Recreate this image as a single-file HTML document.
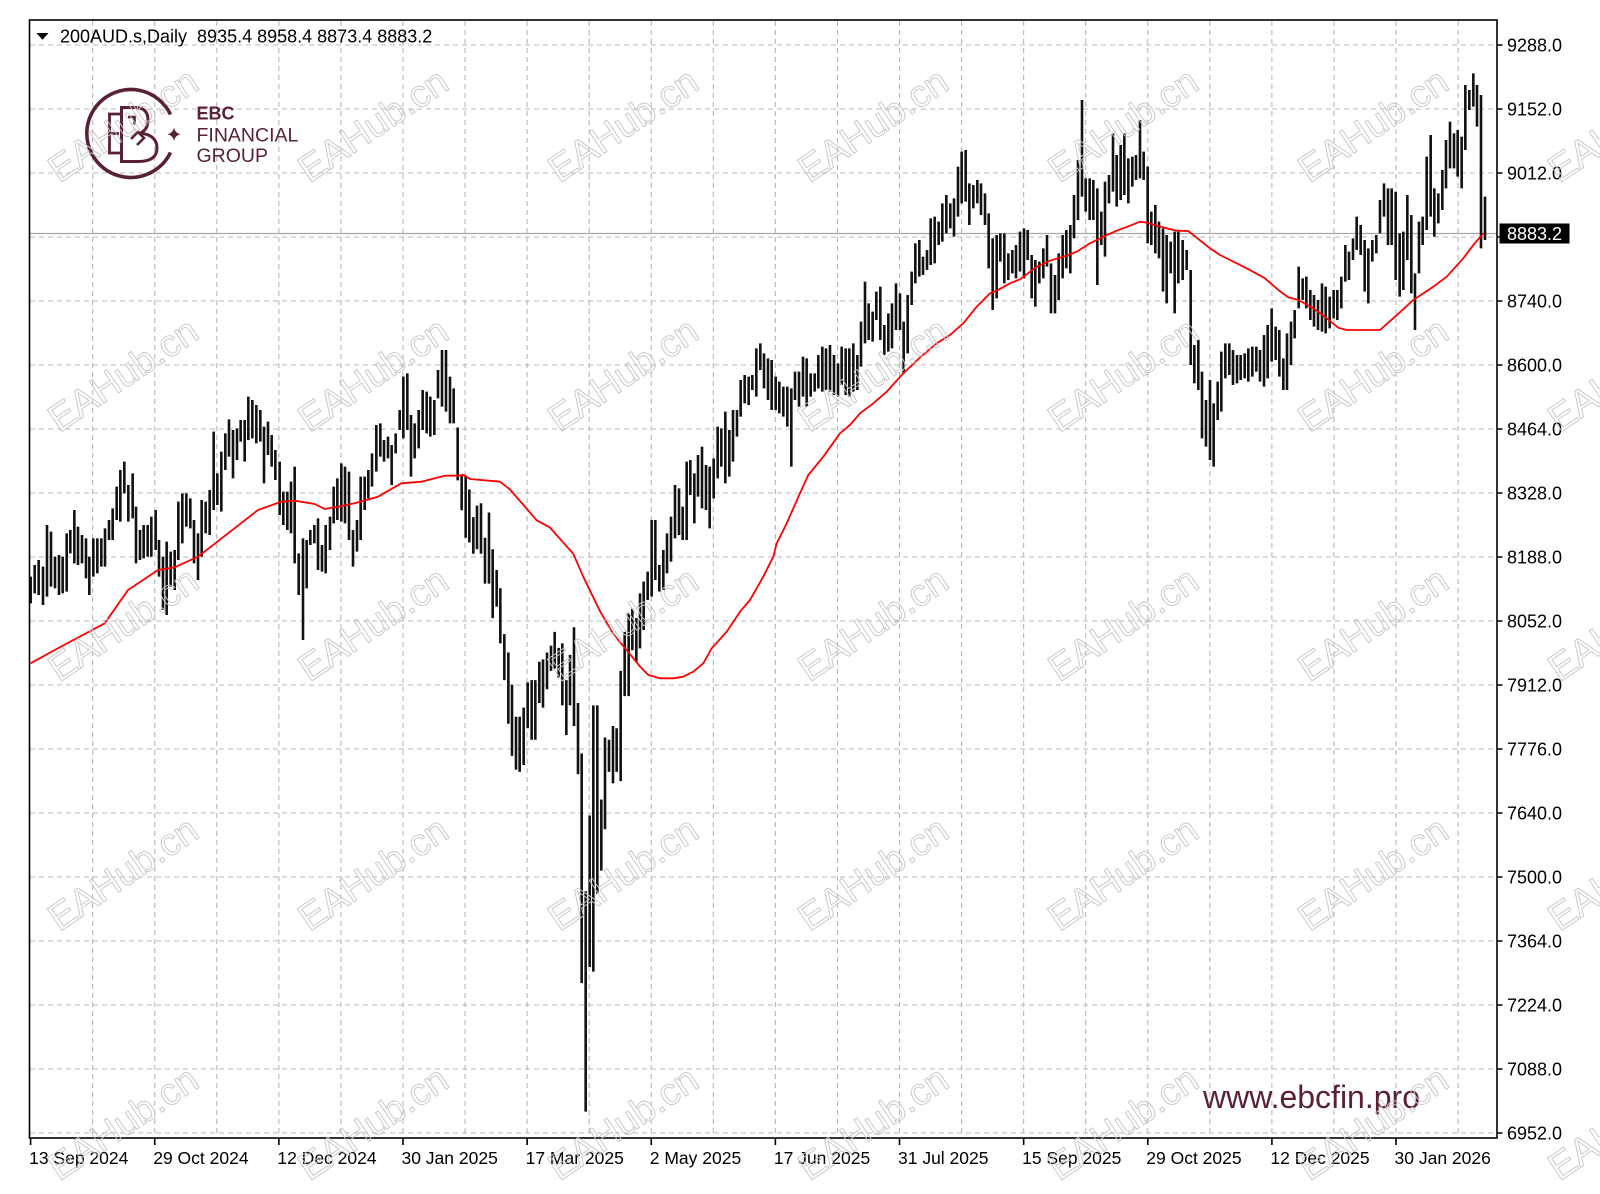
<!DOCTYPE html>
<html>
<head>
<meta charset="utf-8">
<style>
  html,body{margin:0;padding:0;background:#fff;}
  body{width:1600px;height:1194px;overflow:hidden;}
  svg{display:block;}
  text{font-family:"Liberation Sans", Arial, sans-serif;}
</style>
</head>
<body>
<svg id="c" xmlns="http://www.w3.org/2000/svg" width="1600" height="1194" viewBox="0 0 1600 1194">
  <rect x="0" y="0" width="1600" height="1194" fill="#ffffff"/>
  <g id="grid"></g>
  <line x1="30" y1="233.5" x2="1497" y2="233.5" stroke="#a8a8a8" stroke-width="1.2"/>
  <g id="bars"></g>
  <polyline id="ma" fill="none" stroke="#ff0000" stroke-width="1.8" stroke-linejoin="round" points=""/>
  <!-- frame -->
  <rect x="29.5" y="20" width="1467.5" height="1118" fill="none" stroke="#000" stroke-width="1.6"/>
  <g id="axes"></g>

  <!-- header -->
  <polygon points="36.5,33 48.5,33 42.5,39.8" fill="#000"/>
  <text x="60" y="42.7" font-size="18" fill="#000" xml:space="preserve">200AUD.s,Daily  8935.4 8958.4 8873.4 8883.2</text>

  <!-- current price label -->
  <rect x="1499.5" y="223.5" width="70" height="20" fill="#000"/>
  <text x="1507" y="240" font-size="18" fill="#fff">8883.2</text>

  <!-- logo -->
  <g fill="none" stroke="#5a2230" stroke-width="3.6" stroke-linecap="butt">
    <path d="M170.5 114.5 A44 44 0 1 0 170.5 152.5"/>
    <path d="M109.5 114 V153 M108 114 H121 M109.5 133.5 H119 M108 153 H121" stroke-width="2.8"/>
    <path d="M121.5 107.5 V161.5 M120 107.5 H135 Q148 107.5 148 120 Q148 130 140 133 Q157 135 157 148 Q157 161.5 138 161.5 H120" stroke-width="3"/>
    <path d="M128 117 H134.5 V124.5" stroke-width="2.6"/>
    <path d="M131 139 L138 132 L144 138 L137 145" stroke-width="2.6"/>
  </g>
  <path d="M174 127.5 Q175 133 180.5 134.3 Q175 135.5 174 141 Q173 135.5 167.5 134.3 Q173 133 174 127.5 Z" fill="#5a2230"/>
  <text x="196.5" y="119.4" font-size="18" font-weight="bold" fill="#5a2230">EBC</text>
  <text x="196.5" y="141.7" font-size="19.5" fill="#5a2230">FINANCIAL</text>
  <text x="196.5" y="162" font-size="19.5" fill="#5a2230">GROUP</text>

  <!-- site -->
  <text x="1203" y="1108" font-size="32" fill="#5a2230">www.ebcfin.pro</text>

  <g id="wm"></g>
</svg>
<script>
(function(){
  var NS="http://www.w3.org/2000/svg";
  function el(tag,attrs,parent,txt){
    var e=document.createElementNS(NS,tag);
    for(var k in attrs){e.setAttribute(k,attrs[k]);}
    if(txt!==undefined){e.textContent=txt;}
    parent.appendChild(e);return e;
  }
  // grid
  var g=document.getElementById('grid');
  var ax=document.getElementById('axes');
  var prices=["9288.0","9152.0","9012.0","8876.0","8740.0","8600.0","8464.0","8328.0","8188.0","8052.0","7912.0","7776.0","7640.0","7500.0","7364.0","7224.0","7088.0","6952.0"];
  for(var k=0;k<18;k++){
    var y=45+64*k;
    el('line',{x1:30,y1:y,x2:1497,y2:y,stroke:'#b8b8b8','stroke-width':1.1,'stroke-dasharray':'5 4'},g);
    el('line',{x1:1497,y1:y,x2:1502.5,y2:y,stroke:'#000','stroke-width':1.5},ax);
    if(k!==3){
      el('text',{x:1507,y:y+6.4,'font-size':18,fill:'#000'},ax,prices[k]);
    }
  }
  for(var k=1;k<=23;k++){
    var x=30.6+62.065*k;
    el('line',{x1:x,y1:21,x2:x,y2:1137,stroke:'#b8b8b8','stroke-width':1.1,'stroke-dasharray':'5 4'},g);
  }
  var dates=["13 Sep 2024","29 Oct 2024","12 Dec 2024","30 Jan 2025","17 Mar 2025","2 May 2025","17 Jun 2025","31 Jul 2025","15 Sep 2025","29 Oct 2025","12 Dec 2025","30 Jan 2026"];
  for(var j=0;j<12;j++){
    var x=30.6+124.13*j;
    el('line',{x1:x,y1:1138,x2:x,y2:1145,stroke:'#000','stroke-width':1.6},ax);
    el('text',{x:x-1.5,y:1164,'font-size':17.5,fill:'#000'},ax,dates[j]);
  }
  // bars
  var segs=[
   {ox:28,oy:330,sx:3,sy:3,d:[8,740,820,20,705,790,32,690,795,45,710,825,57,585,800,69,605,770,81,680,775,93,675,795,104,680,790,116,610,785,127,600,670,139,540,700,150,590,705,162,615,700,174,625,745,184,680,795,196,625,740,208,625,730,220,625,710,231,595,710,243,570,630,254,535,630,266,470,570,277,420,575,289,395,490,301,465,575,314,430,565,324,530,700,336,600,690,347,585,685,359,585,680,370,560,680,383,540,660,393,630,740,405,680,840,416,635,855,428,665,770,440,660,780,451,515,690,463,490,640,475,490,590,487,505,595,498,570,700,510,610,750,521,510,680,533,515,610,545,480,615,557,305,540,568,430,525,580,365,545,592,310,420,603,268,380,615,300,445,627,295,390,638,270,335,650,270,395,661,200,330,673,210,325,685,225,340,697,240,335,708,290,460,720,275,375,731,315,410,742,360,450,755,395,555,766,485,585,778,485,600,789,455,610,800,410,700,812,670,795,825,625,930,836,630,775,847,600,645,859,585,640,870,565,720,882,645,725,893,585,730,906,560,660,917,470,580,928,445,570,940,400,575,951,410,580,963,425,630,975,600,710,987,570,665,998,440,630,1010,440,540,1021,420,505,1032,370,470,1045,285,425,1057,280,380,1068,330,395,1080,320,385,1091,345,465,1103,310,370,1115,240,300,1126,140,325,1138,130,300,1149,255,440,1160,280,385,1172,240,355,1184,180,300,1196,185,310,1207,200,320,1219,210,315,1230,120,205,1242,60,230,1254,60,245,1266,140,280,1277,175,280]},
   {ox:440,oy:400,sx:3,sy:2.178,d:[53,60,175,65,165,240,77,165,300,88,195,310,100,255,335,111,230,325,123,225,335,135,300,400,147,245,400,158,325,475,170,370,450,181,410,530,193,510,610,205,550,705,216,620,775,228,690,805,239,690,810,251,670,795,263,615,715,275,610,740,286,610,740,298,570,660,309,565,670,321,550,630,333,535,590,344,505,585,356,540,605,367,530,665,379,610,730,390,555,665,402,495,710,414,660,815,425,770,1270,437,1070,1550,449,905,1235,460,665,1245,472,665,1075,484,870,1025,495,735,935,507,740,810,519,710,835,530,715,810,542,590,830,554,505,645,566,465,645,577,455,545,589,475,570]},
   {ox:640,oy:260,sx:3,sy:3,d:[0,1000,1165,11,965,1110,23,935,1020,35,780,1010,46,780,960,58,915,995,70,870,990,81,820,940,93,770,905,105,675,835,117,685,825,128,740,840,140,605,840,151,600,705,163,640,790,174,585,710,186,560,745,198,615,750,209,620,805,221,595,715,233,500,655,244,505,620,256,455,670,268,510,650,279,450,605,291,450,530,302,360,470,314,345,430,326,350,435,337,345,390,349,265,410,361,250,330,372,280,385,384,295,420,395,300,450,407,350,450,418,365,460,430,380,470,442,380,500,454,385,620,465,335,420,477,335,440,489,290,410,500,295,440,512,340,410,524,340,395,535,285,385,547,260,395,558,265,390,570,255,395,582,285,405,594,310,410,605,260,375,617,265,405,628,265,410,640,250,395,652,285,390,663,185,320,675,65,250,686,130,240,698,155,245,709,95,180,721,80,240,733,195,285,745,160,275,756,130,265,768,70,210,780,100,210,791,185,340,803,105,280]},
   {ox:910,oy:80,sx:3,sy:3,d:[5,575,675,16,490,610,28,480,590,39,530,585,51,510,570,62,415,555,74,410,550,86,425,495,97,370,485,109,345,460,121,370,445,132,355,470,144,260,410,155,215,370,167,210,365,178,310,435,190,315,385,202,300,370,213,310,405,225,340,435,236,400,565,248,475,690,260,465,655,271,460,545,283,460,610,295,520,600,307,510,580,318,495,595,330,455,575,342,445,595,353,450,540,365,525,655,376,540,680,388,545,610,400,505,595,411,465,560,423,550,700,435,585,700,446,520,660,458,465,595,469,450,565,481,435,580,492,345,475,504,240,420,516,60,350,527,295,395,539,295,420,550,300,420,562,325,615,574,395,495,585,305,530,597,285,370,609,160,335,620,225,380,632,195,360,643,160,345,655,235,370,667,230,320,678,225,300,690,120,295,701,215,300,713,260,490,724,395,495,736,375,520,747,425,535,759,445,635,770,465,670,782,485,580,794,455,700,805,455,610]},
   {ox:1180,oy:60,sx:3,sy:3,d:[8,540,660,20,570,630,32,630,915,43,855,970,55,840,990,66,935,1135,78,1020,1160,90,960,1200,101,1030,1220,113,965,1080,124,875,1055,136,850,955,148,850,945,159,870,975,171,885,970,182,885,960,194,880,955,205,865,965,217,860,950,229,860,935,240,870,965,252,825,980,263,795,955,275,745,905,287,800,900,298,810,950,310,895,990,321,820,990,333,785,915,344,750,835,356,620,745,368,655,720,379,650,745,391,690,780,402,705,800,414,720,810,426,670,815,437,680,820,449,710,805,461,690,775,472,690,780,484,650,745,496,555,665,507,575,660,519,535,600,530,470,570,542,495,585,554,540,695,565,565,730,577,540,605,589,525,580,600,420,520,612,370,470,624,385,555,635,385,555,647,395,660,659,520,710,670,515,690,682,405,600,694,465,700,705,640,810,717,485,640,728,470,555,740,290,510,752,225,470,763,385,530,775,400,490,787,330,450,798,240,385,810,185,325,822,220,325,833,210,350,845,230,385,856,75,270,868,90,150,880,40,140,891,75,200,903,105,565,915,410,540]}
  ];
  var bg=document.getElementById('bars');
  var path="";
  for(var s=0;s<segs.length;s++){
    var sg=segs[s],d=sg.d;
    for(var i=0;i<d.length;i+=3){
      var x=sg.ox+d[i]/sg.sx, y1=sg.oy+d[i+1]/sg.sy, y2=sg.oy+d[i+2]/sg.sy;
      if(y2-y1<3){y2=y1+3;}
      path+="M"+(x-1.3).toFixed(2)+" "+y1.toFixed(2)+"h2.6V"+y2.toFixed(2)+"h-2.6Z";
    }
  }
  el('path',{d:path,fill:'#111'},bg);
  // MA
  var ma=[[30.6,663.3],[54.7,650],[104.7,623.3],[128,590],[158,570],[174.7,567.3],[198,556.7],[258,510],[281.3,501.7],[294.7,500.7],[314.7,504],[324.7,509],[338,506.7],[354.7,503.3],[378,496.7],[401.3,483.3],[421.3,481.7],[444.7,475.7],[458,475.7],[463.3,474.8],[470,479],[500,481.7],[510,489.5],[536.7,520.3],[550,527.6],[573.3,553.8],[583.3,576.8],[600,611.2],[613.3,634.2],[626.7,650.2],[640,666.5],[648.3,675],[660,678.3],[673.3,678.3],[683.3,676.7],[693.3,671.7],[703.3,663.3],[711.7,648.3],[726.7,631.7],[740,611.7],[750,600],[763.3,576.7],[773.3,556.7],[776.7,543.3],[786.7,523.3],[800,493.3],[808.3,475],[823.3,456.7],[840,433.3],[850,425],[860,413.3],[873.3,403.3],[886.7,391.7],[903.3,373.3],[920,357.5],[936.7,343.3],[950,335],[963.3,323.3],[976.7,306.7],[990,293.3],[996.7,290.7],[1010,283.3],[1020,279.3],[1036.7,266.7],[1050,260.7],[1063.3,256.7],[1076.7,251.7],[1090,243.3],[1103.3,236.7],[1116.7,230.7],[1130,225.7],[1140,221.7],[1146.7,222.7],[1156.7,225.7],[1176.7,230.7],[1188.3,231],[1210,248.3],[1220,255],[1246.7,268.3],[1265,278.3],[1278.3,290],[1288.3,297.3],[1298.3,300],[1313.3,308.3],[1326.7,318.3],[1338.3,327.7],[1346.7,330],[1380,330],[1395,316.7],[1413.3,300],[1433.3,286.7],[1446.7,276.7],[1463.3,258.3],[1473.3,245],[1483.3,233.3]];
  var pts=ma.map(function(p){return p[0]+","+p[1];}).join(" ");
  document.getElementById('ma').setAttribute('points',pts);
  // watermarks
  var wm=document.getElementById('wm');
  for(var i=0;i<7;i++){
    for(var j=0;j<5;j++){
      var cx=123+250*i, cy=125+249.5*j;
      el('text',{x:cx,y:cy+13,'font-size':38,'text-anchor':'middle',fill:'none',stroke:'#c6c6c6','stroke-width':0.9,transform:'rotate(-34 '+cx+' '+cy+')'},wm,'EAHub.cn');
    }
  }
})();
</script>
</body>
</html>
